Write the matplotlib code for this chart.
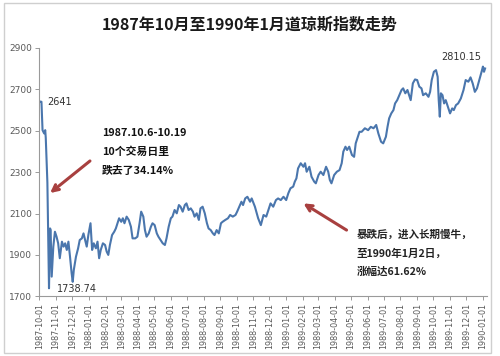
import matplotlib
matplotlib.use("Agg")
import matplotlib.pyplot as plt
from matplotlib.patches import Rectangle
import pandas as pd

plt.rcParams['font.family'] = ['Noto Sans CJK SC', 'DejaVu Sans']

title = "1987年10月至1990年1月道琼斯指数走势"
start_date = "1987-10-01"

# trading-day offsets (days since 1987-10-01) and index values
day_offsets = [0, 2, 4, 6, 9, 11, 12, 15, 18, 20, 21, 23, 26, 29, 32, 35, 38, 42, 45, 48,
               51, 54, 57, 60, 62, 64, 68, 72, 75, 79, 82, 85, 88, 91, 95, 98, 101, 105, 108, 111,
               114, 118, 122, 125, 128, 131, 135, 139, 142, 145, 148, 152, 155, 158, 162, 166, 170, 173, 178, 182,
               186, 189, 193, 196, 199, 203, 207, 210, 214, 218, 221, 225, 229, 233, 236, 240, 244, 247, 251, 255,
               259, 262, 266, 270, 273, 277, 281, 285, 288, 292, 296, 299, 303, 307, 311, 314, 318, 322, 325, 329,
               333, 337, 340, 345, 350, 354, 359, 364, 367, 371, 375, 378, 382, 386, 391,
               394, 400, 406, 411, 416, 421, 425, 429, 434, 439, 443, 448, 453, 458, 462, 466, 471, 474, 477, 480,
               485, 490, 493, 496, 501, 505, 510, 513, 518, 522, 527, 532, 536, 539, 542, 547, 552, 557, 561, 564,
               568, 571, 575, 580, 584, 587, 591, 594,
               598, 604, 610, 615, 620, 625, 629, 634, 638, 643, 646, 649, 653, 657, 660, 664, 668, 672, 675, 679,
               683, 686, 689, 693, 697, 701, 705, 709, 712, 717, 722, 725, 728, 732, 736, 739, 741, 743, 745, 748,
               751, 754, 758, 762, 766, 769, 773, 777, 782, 787, 791, 796, 800, 804, 808, 812, 818, 821, 823, 825, 827]

dow_values = [2641, 2641, 2640, 2503, 2487, 2503, 2465, 2250, 1738.74, 2028, 2020, 1795, 1940, 2012, 1988, 1956, 1884, 1964, 1940, 1956,
              1924, 1964, 1891, 1811, 1770, 1827, 1891, 1932, 1972, 1980, 2004, 1972, 1940, 1996, 2053, 1924, 1956, 1932, 1964, 1884,
              1924, 1956, 1948, 1916, 1900, 1948, 1996, 2012, 2028, 2053, 2077, 2060, 2077, 2053, 2085, 2069, 2036, 1980, 1980, 1988,
              2053, 2109, 2085, 2020, 1988, 2004, 2036, 2053, 2044, 2004, 1988, 1972, 1956, 1948, 1980, 2036, 2077, 2085, 2117, 2101,
              2141, 2133, 2109, 2141, 2149, 2117, 2125, 2109, 2085, 2101, 2069, 2125, 2133, 2101, 2053, 2028, 2020, 2004, 1996, 2020,
              2004, 2053, 2060, 2069, 2077, 2093, 2085, 2093, 2109, 2133, 2157, 2141, 2173, 2181, 2157,
              2173, 2133, 2077, 2044, 2093, 2085, 2117, 2149, 2133, 2165, 2173, 2165, 2181, 2165, 2198, 2222, 2230, 2254, 2270, 2318,
              2343, 2326, 2343, 2302, 2326, 2278, 2254, 2246, 2286, 2302, 2286, 2326, 2302, 2262, 2246, 2286, 2302, 2310, 2343, 2399,
              2423, 2407, 2423, 2383, 2374, 2439, 2471, 2495,
              2495, 2512, 2503, 2519, 2512, 2528, 2487, 2447, 2439, 2471, 2519, 2560, 2584, 2600, 2632, 2648, 2672, 2697, 2705, 2681,
              2697, 2672, 2648, 2729, 2748, 2745, 2713, 2705, 2672, 2681, 2664, 2688, 2745, 2785, 2793, 2761, 2648, 2568, 2681, 2672,
              2632, 2648, 2616, 2584, 2608, 2600, 2624, 2632, 2656, 2697, 2745, 2737, 2758, 2729, 2688, 2705, 2761, 2790, 2810.15, 2785, 2801]

y_ticks = [1700, 1900, 2100, 2300, 2500, 2700, 2900]
x_tick_start = "1987-10-01"
x_tick_end = "1990-01-01"

label_start = "2641"
label_low = "1738.74"
label_high = "2810.15"
note1 = ["1987.10.6-10.19", "10个交易日里", "跌去了34.14%"]
note2 = ["暴跌后，进入长期慢牛，", "至1990年1月2日，", "涨幅达61.62%"]

t0 = pd.Timestamp(start_date)
dates = [t0 + pd.Timedelta(days=d) for d in day_offsets]

fig = plt.figure(figsize=(5.0, 3.56), dpi=100)
fig.patch.set_facecolor('white')
fig.patches.append(Rectangle((4/500, 1 - 353/356), 487/500, 350/356, transform=fig.transFigure,
                             fill=False, edgecolor='#cfcfcf', lw=1.0))

ax = fig.add_axes([0.0786, 0.1677, 0.8948, 0.6975])
ax.plot(dates, dow_values, color='#4a76ad', lw=1.5, solid_joinstyle='round')

ax.set_ylim(1700, 2900)
ax.set_yticks(y_ticks)
ax.set_xlim(t0, t0 + pd.Timedelta(days=830))
ticks = pd.date_range(x_tick_start, x_tick_end, freq='MS')
ax.set_xticks(ticks)
ax.set_xticklabels([t.strftime('%Y-%m-%d') for t in ticks], rotation=90,
                   fontsize=5.8, color='#595959', family='DejaVu Sans')
for lab in ax.get_yticklabels():
    lab.set_fontsize(6.5)
    lab.set_color('#595959')
    lab.set_family('DejaVu Sans')
ax.tick_params(axis='both', direction='out', length=3, width=0.7, colors='#9a9a9a', pad=2)
ax.tick_params(axis='x', labelcolor='#595959')
ax.tick_params(axis='y', labelcolor='#595959')
for s in ['top', 'right']:
    ax.spines[s].set_visible(False)
for s in ['left', 'bottom']:
    ax.spines[s].set_color('#9a9a9a')
    ax.spines[s].set_linewidth(0.8)

fig.text(0.5, 1 - 24.5/356, title, ha='center', va='center', fontsize=11.5, fontweight='bold', color='#1a1a1a')

def D(d):
    return t0 + pd.Timedelta(days=d)

ax.text(D(14), 2641, label_start, fontsize=7, color='#333333', ha='left', va='center', family='DejaVu Sans')
ax.text(D(33), 1735, label_low, fontsize=7, color='#333333', ha='left', va='center', family='DejaVu Sans')
ax.text(D(783), 2856, label_high, fontsize=7, color='#333333', ha='center', va='center', family='DejaVu Sans')

for txt, v in zip(note1, [2488, 2397, 2305]):
    ax.text(D(116), v, txt, fontsize=7.8, fontweight='bold', color='#111111', ha='left', va='center')
for txt, v in zip(note2, [1996, 1904, 1817]):
    ax.text(D(589), v, txt, fontsize=7.6, fontweight='bold', color='#222222', ha='left', va='center')

arrow_kw = dict(arrowstyle='->', lw=2.2, color='#a8403f', mutation_scale=11, shrinkA=0, shrinkB=0)
ax.annotate('', xy=(D(20), 2199), xytext=(D(94), 2354), arrowprops=arrow_kw)
ax.annotate('', xy=(D(490), 2149), xytext=(D(570), 2020), arrowprops=arrow_kw)

fig.savefig('out.png', dpi=100, facecolor='white')
